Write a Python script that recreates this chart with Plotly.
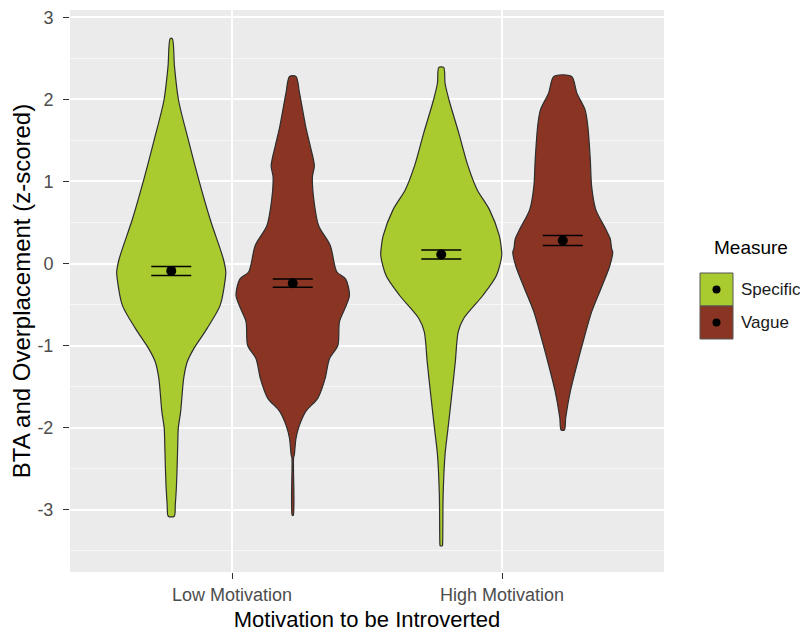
import plotly.graph_objects as go

# ---- data ----
categories = ["Low Motivation", "High Motivation"]
measures = ["Specific", "Vague"]
y_ticks = [-3, -2, -1, 0, 1, 2, 3]
y_tick_labels = ["-3", "-2", "-1", "0", "1", "2", "3"]

# violin outlines: y levels and half-widths (x-axis units)
low_specific_y = [2.74, 2.40, 1.99, 1.51, 1.02, 0.54, 0.055, -0.10, -0.19, -0.51, -0.79, -1.04, -1.20, -1.40,
                  -1.80, -2.01, -2.21, -2.45, -2.73, -2.94, -3.08]
low_specific_w = [0.004, 0.012, 0.027, 0.063, 0.102, 0.144, 0.193, 0.202, 0.200, 0.181, 0.133, 0.083, 0.059, 0.046,
                  0.035, 0.026, 0.024, 0.022, 0.019, 0.015, 0.011]

low_vague_y = [2.28, 2.08, 1.67, 1.43, 1.19, 1.06, 0.78, 0.46, 0.22, -0.10, -0.19, -0.39, -0.55, -0.71, -1.00,
               -1.16, -1.40, -1.64, -1.80, -1.97, -2.13, -2.33, -2.37, -3.07]
low_vague_w = [0.012, 0.025, 0.048, 0.065, 0.080, 0.073, 0.078, 0.096, 0.139, 0.163, 0.196, 0.210, 0.193, 0.173,
               0.167, 0.136, 0.120, 0.093, 0.049, 0.025, 0.012, 0.006, 0.003, 0.002]

high_specific_y = [2.39, 2.20, 1.99, 1.59, 1.19, 0.90, 0.66, 0.34, 0.20, 0.095, -0.15, -0.39, -0.67, -0.83, -1.20,
                   -1.60, -2.01, -2.33, -2.82, -3.42, -3.44]
high_specific_w = [0.009, 0.014, 0.029, 0.065, 0.099, 0.133, 0.178, 0.215, 0.222, 0.224, 0.204, 0.154, 0.083, 0.063,
                   0.052, 0.039, 0.025, 0.014, 0.007, 0.005, 0.004]

high_vague_y = [2.28, 2.08, 1.87, 1.67, 1.27, 0.94, 0.66, 0.42, 0.30, 0.18, 0.14, -0.03, -0.31, -0.59, -0.92,
                -1.24, -1.56, -1.88, -2.03]
high_vague_w = [0.033, 0.052, 0.083, 0.093, 0.102, 0.107, 0.122, 0.159, 0.176, 0.181, 0.185, 0.174, 0.141, 0.107,
                0.078, 0.052, 0.028, 0.011, 0.006]

# group means and error-bar half-lengths
means = {"Specific": [-0.09, 0.11], "Vague": [-0.24, 0.28]}
errors = {"Specific": [0.055, 0.055], "Vague": [0.05, 0.06]}

colors = {"Specific": "#AACB2F", "Vague": "#8A3523"}
outline = "#2E2E2E"
dodge = 0.225

violins = [
    (0, "Specific", low_specific_y, low_specific_w),
    (0, "Vague", low_vague_y, low_vague_w),
    (1, "Specific", high_specific_y, high_specific_w),
    (1, "Vague", high_vague_y, high_vague_w),
]

fig = go.Figure()

for ci, m, ys, ws in violins:
    center = ci + 1 + (-dodge if m == "Specific" else dodge)
    xs = [center + w for w in ws] + [center - w for w in reversed(ws)] + [center + ws[0]]
    yy = list(ys) + list(reversed(ys)) + [ys[0]]
    fig.add_trace(go.Scatter(
        x=xs, y=yy, mode="lines", fill="toself", fillcolor=colors[m],
        line=dict(color=outline, width=1.2, shape="spline", smoothing=0.8),
        showlegend=False, hoverinfo="skip"))

for m in measures:
    xpos = [i + 1 + (-dodge if m == "Specific" else dodge) for i in range(len(categories))]
    fig.add_trace(go.Scatter(
        x=xpos, y=means[m], mode="markers",
        marker=dict(color="black", size=10),
        error_y=dict(type="data", array=errors[m], color="black", thickness=1.5, width=20),
        showlegend=False))

# page has an 8px body margin, so the figure is 8px smaller and shifted
W, H = 800, 624
L, R, T, B = 62, 144, 2, 60
pw, ph = W - L - R, H - T - B
PANEL_LEFT, PANEL_TOP = L + 8, T + 8   # panel position on screen

def px(xs_):
    return (xs_ - PANEL_LEFT) / pw

def py(ys_):
    return 1 - (ys_ - PANEL_TOP) / ph

# manual ggplot-style legend (screen pixel positions)
legend_x0, legend_x1 = 700, 733
key_tops = [273, 306]
shapes = []
annotations = []
for m, top in zip(measures, key_tops):
    shapes.append(dict(type="rect", xref="paper", yref="paper",
                       x0=px(legend_x0), x1=px(legend_x1), y0=py(top + 33), y1=py(top),
                       fillcolor=colors[m], line=dict(color="#555555", width=1)))
    cx, cy = (legend_x0 + legend_x1) / 2, top + 16.5
    shapes.append(dict(type="circle", xref="paper", yref="paper",
                       x0=px(cx - 4), x1=px(cx + 4), y0=py(cy + 4), y1=py(cy - 4),
                       fillcolor="black", line=dict(color="black", width=0)))
    annotations.append(dict(xref="paper", yref="paper", x=px(739), y=py(cy), text=m,
                            showarrow=False, xanchor="left", yanchor="middle",
                            font=dict(size=17, color="#1a1a1a")))
annotations.append(dict(xref="paper", yref="paper", x=px(712), y=py(247), text="Measure",
                        showarrow=False, xanchor="left", yanchor="middle",
                        font=dict(size=19, color="black")))

fig.update_layout(
    width=W, height=H,
    margin=dict(l=L, r=R, t=T, b=B),
    paper_bgcolor="white", plot_bgcolor="#EBEBEB",
    font=dict(family="Liberation Sans, Arial, sans-serif"),
    shapes=shapes, annotations=annotations, showlegend=False,
)
fig.update_xaxes(
    range=[0.4, 2.6], tickvals=[1, 2], ticktext=categories, automargin=False,
    showgrid=True, gridcolor="white", gridwidth=1.5, zeroline=False,
    ticks="outside", ticklen=6, tickcolor="#333333", tickwidth=1,
    tickfont=dict(size=18, color="#4D4D4D"),
    title=dict(text="Motivation to be Introverted", font=dict(size=22, color="black"), standoff=8),
)
fig.update_yaxes(
    range=[-3.76, 3.09], tickvals=y_ticks, ticktext=y_tick_labels, automargin=False,
    ticklabeloverflow="allow",
    showgrid=True, gridcolor="white", gridwidth=1.5, zeroline=False,
    minor=dict(dtick=0.5, tick0=0, showgrid=True, gridcolor="#F7F7F7", gridwidth=0.8),
    ticks="outside", ticklen=6, tickcolor="#333333", tickwidth=1, ticklabelstandoff=6,
    tickfont=dict(size=18, color="#4D4D4D"),
    title=dict(text="BTA and Overplacement (z-scored)", font=dict(size=24, color="black"), standoff=2),
)

fig.write_html("out.html")
